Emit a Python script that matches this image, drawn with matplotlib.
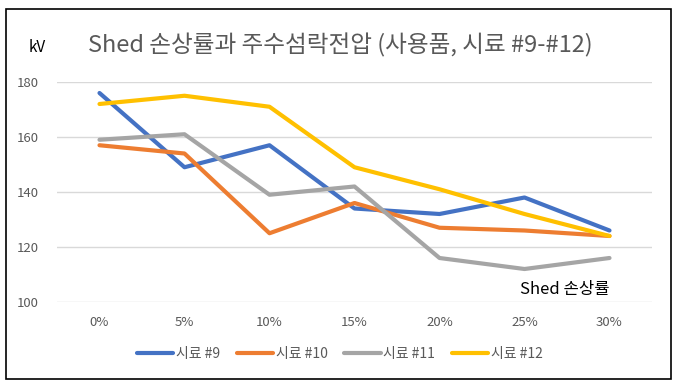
import matplotlib
matplotlib.use("Agg")
import matplotlib.pyplot as plt
from matplotlib.patches import Rectangle

plt.rcParams['font.family'] = ['Noto Sans CJK KR', 'DejaVu Sans']

categories = ['0%', '5%', '10%', '15%', '20%', '25%', '30%']
s9 = [176, 149, 157, 134, 132, 138, 126]
s10 = [157, 154, 125, 136, 127, 126, 124]
s11 = [159, 161, 139, 142, 116, 112, 116]
s12 = [172, 175, 171, 149, 141, 132, 124]
series_names = ['시료 #9', '시료 #10', '시료 #11', '시료 #12']
colors = ['#4472C4', '#ED7D31', '#A5A5A5', '#FFC000']

W, H = 679, 388
fig = plt.figure(figsize=(W / 100, H / 100), dpi=100)
ax = fig.add_axes([57 / W, (H - 302) / H, 595 / W, 220 / H])

x = range(len(categories))
for vals, name, c in zip([s9, s10, s11, s12], series_names, colors):
    ax.plot(x, vals, color=c, lw=3, label=name, solid_capstyle='round')

ax.set_xlim(-0.5, len(categories) - 0.5)
ax.set_ylim(100, 180)
ax.set_yticks([100, 120, 140, 160, 180])
ax.set_xticks(list(x))
ax.set_xticklabels(categories)
ax.grid(axis='y', color='#D9D9D9', lw=1)
ax.set_axisbelow(True)
for sp in ax.spines.values():
    sp.set_visible(False)
ax.tick_params(axis='both', length=0, colors='#595959', labelsize=9.5)
ax.tick_params(axis='y', pad=13)
ax.tick_params(axis='x', pad=10)

# axis titles
ax.text(6, 101.5, 'Shed 손상률', ha='right', va='bottom', fontsize=12, color='black')
fig.text(37 / W, 1 - 48 / H, 'kV', ha='center', va='center', fontsize=11, color='black')
fig.text(340 / W, 1 - 45 / H, 'Shed 손상률과 주수섬락전압 (사용품, 시료 #9-#12)',
         ha='center', va='center', fontsize=17, color='#595959')

fig.legend(loc='center', bbox_to_anchor=(340 / W, 1 - 354 / H), ncol=4, frameon=False,
           fontsize=10, handlelength=2.6, handletextpad=0.2, columnspacing=1.2,
           labelcolor='#595959')

fig.patches.append(Rectangle((6 / W, 1 - 379 / H), 665 / W, 370 / H, transform=fig.transFigure,
                             fill=False, edgecolor='black', lw=1.2))

plt.savefig('out.png', dpi=100)
